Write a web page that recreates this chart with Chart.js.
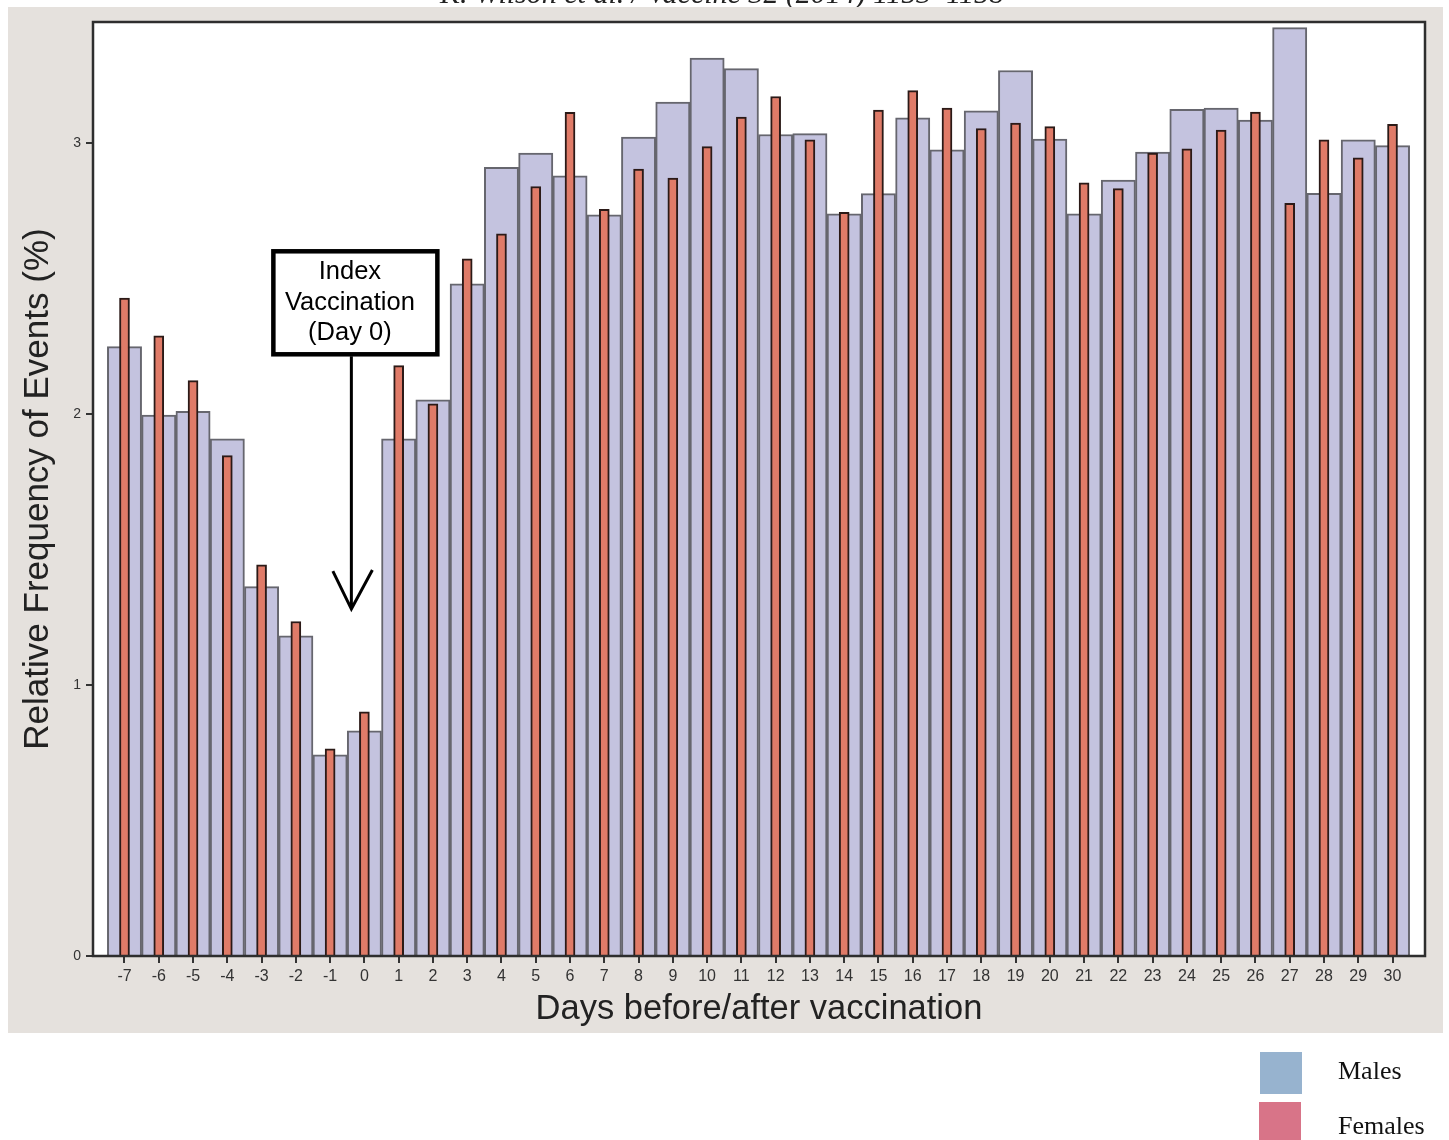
<!DOCTYPE html>
<html lang="en">
<head>
<meta charset="UTF-8">
<title>Relative Frequency of Events by day</title>
<script src="https://cdn.jsdelivr.net/npm/chart.js@4.4.1/dist/chart.umd.min.js"></script>
<style>
  html, body { margin: 0; padding: 0; background: #fff; }
  #wrap { position: relative; width: 1449px; height: 1140px; }
</style>
</head>
<body>
<div id="wrap"><canvas id="grafica"></canvas></div>
<script>
// datos
const dias = [-7, -6, -5, -4, -3, -2, -1, 0, 1, 2, 3, 4, 5, 6, 7, 8, 9, 10, 11, 12,
  13, 14, 15, 16, 17, 18, 19, 20, 21, 22, 23, 24, 25, 26, 27, 28, 29, 30];
const males = [2.248, 1.996, 2.010, 1.908, 1.363, 1.181, 0.742, 0.831, 1.908, 2.052,
  2.480, 2.910, 2.962, 2.878, 2.735, 3.021, 3.151, 3.313, 3.274, 3.031,
  3.034, 2.738, 2.813, 3.092, 2.974, 3.118, 3.267, 3.014, 2.738, 2.863,
  2.966, 3.124, 3.128, 3.084, 3.425, 2.814, 3.011, 2.990];
const females = [2.427, 2.288, 2.123, 1.846, 1.443, 1.234, 0.764, 0.901, 2.178, 2.037,
  2.572, 2.664, 2.839, 3.113, 2.755, 2.903, 2.870, 2.986, 3.095, 3.171,
  3.011, 2.744, 3.121, 3.193, 3.128, 3.053, 3.073, 3.060, 2.853, 2.831,
  2.962, 2.978, 3.047, 3.114, 2.777, 3.011, 2.945, 3.068];
const yTicks = [0, 1, 2, 3];
const serieNames = ["Males", "Females"];
const legendColors = ["#97b3cf", "#d87488"];
const annotationLines = ["Index", "Vaccination", "(Day 0)"];
const headerText = "K. Wilson et al. / Vaccine 32 (2014) 1153\u20131158";

const sans = "'Liberation Sans', Arial, sans-serif";
const serif = "'Liberation Serif', 'Times New Roman', serif";

// fondo gris, area blanca y cabecera cortada
const fondo = {
  id: "fondo",
  beforeDraw(chart) {
    const ctx = chart.ctx;
    const a = chart.chartArea;
    ctx.save();
    ctx.fillStyle = "#ffffff";
    ctx.fillRect(0, 0, chart.width, chart.height);
    ctx.fillStyle = "#222";
    ctx.font = "italic 30px " + serif;
    ctx.textAlign = "center";
    ctx.textBaseline = "alphabetic";
    ctx.fillText(headerText, 722, 3);
    ctx.fillStyle = "#e5e1dd";
    ctx.fillRect(8, 7, 1435, 1026);
    ctx.fillStyle = "#ffffff";
    ctx.fillRect(a.left, a.top, a.right - a.left, a.bottom - a.top);
    ctx.restore();
  }
};

// marco, recuadro "Index Vaccination" y leyenda
const extras = {
  id: "extras",
  afterDatasetsDraw(chart) {
    const ctx = chart.ctx;
    const a = chart.chartArea;
    const x = chart.scales.x;
    const y = chart.scales.y;
    ctx.save();
    ctx.strokeStyle = "#2e2e2e";
    ctx.lineWidth = 2.5;
    ctx.strokeRect(a.left, a.top, a.right - a.left, a.bottom - a.top);

    const ax = x.getPixelForValue(-0.38);
    const tip = y.getPixelForValue(1.28);
    const boxTop = y.getPixelForValue(2.6);
    const boxBottom = y.getPixelForValue(2.22);
    ctx.fillStyle = "#fff";
    ctx.fillRect(ax - 78, boxTop, 164, boxBottom - boxTop);
    ctx.strokeStyle = "#000";
    ctx.lineWidth = 4.5;
    ctx.strokeRect(ax - 78, boxTop, 164, boxBottom - boxTop);
    ctx.fillStyle = "#000";
    ctx.font = "25.5px " + sans;
    ctx.textAlign = "center";
    ctx.textBaseline = "alphabetic";
    annotationLines.forEach((t, i) => {
      ctx.fillText(t, ax - 1.5, boxTop + 28 + i * 30.5);
    });
    ctx.lineWidth = 3;
    ctx.beginPath();
    ctx.moveTo(ax, boxBottom + 2);
    ctx.lineTo(ax, tip);
    ctx.moveTo(ax - 18.5, tip - 38);
    ctx.lineTo(ax, tip);
    ctx.lineTo(ax + 21, tip - 39);
    ctx.stroke();
    ctx.restore();
  },
  afterDraw(chart) {
    const ctx = chart.ctx;
    ctx.save();
    ctx.font = "26px " + serif;
    ctx.textAlign = "left";
    ctx.textBaseline = "alphabetic";
    serieNames.forEach((name, i) => {
      ctx.fillStyle = legendColors[i];
      ctx.fillRect(1260 - i, 1052 + i * 50, 42, 42);
      ctx.fillStyle = "#111";
      ctx.fillText(name, 1338, 1079 + i * 55);
    });
    ctx.restore();
  }
};

new Chart(document.getElementById("grafica"), {
  type: "bar",
  data: {
    datasets: [
      {
        label: serieNames[1],
        data: dias.map((d, i) => ({ x: d, y: females[i] })),
        backgroundColor: "#e07b68",
        borderColor: "#2b1a17",
        borderWidth: 2,
        barThickness: 10,
        grouped: false,
        order: 0
      },
      {
        label: serieNames[0],
        data: dias.map((d, i) => ({ x: d, y: males[i] })),
        backgroundColor: "#c4c3df",
        borderColor: "#66666e",
        borderWidth: 2,
        barPercentage: 1,
        categoryPercentage: 1,
        grouped: false,
        order: 1
      }
    ]
  },
  options: {
    responsive: true,
    maintainAspectRatio: false,
    animation: false,
    layout: { padding: { top: 22, right: 24, bottom: 0, left: 0 } },
    plugins: {
      legend: { display: false },
      tooltip: { enabled: false }
    },
    scales: {
      x: {
        type: "linear",
        min: -7.919,
        max: 30.948,
        bounds: "data",
        offset: false,
        afterBuildTicks: (axis) => { axis.ticks = dias.map((v) => ({ value: v })); },
        afterFit: (axis) => { axis.height = 184; },
        grid: { offset: false, drawOnChartArea: false, tickLength: 7, color: "#333", lineWidth: 2 },
        border: { display: false },
        ticks: {
          autoSkip: false,
          maxRotation: 0,
          padding: 4,
          color: "#333",
          font: { family: sans, size: 16 },
          callback: (v) => String(v)
        },
        title: {
          display: true,
          text: "Days before/after vaccination",
          color: "#222",
          font: { family: sans, size: 34.5 },
          padding: { top: 0, bottom: 110 }
        }
      },
      y: {
        min: 0,
        max: 3.446,
        bounds: "data",
        afterBuildTicks: (axis) => { axis.ticks = yTicks.map((v) => ({ value: v })); },
        afterFit: (axis) => { axis.width = 93; },
        grid: { drawOnChartArea: false, tickLength: 7, color: "#333", lineWidth: 2 },
        border: { display: false },
        ticks: { padding: 5, color: "#333", font: { family: sans, size: 14 } },
        title: {
          display: true,
          text: "Relative Frequency of Events (%)",
          color: "#222",
          font: { family: sans, size: 35 },
          padding: { top: 17, bottom: 0 }
        }
      }
    }
  },
  plugins: [fondo, extras]
});
</script>
</body>
</html>
